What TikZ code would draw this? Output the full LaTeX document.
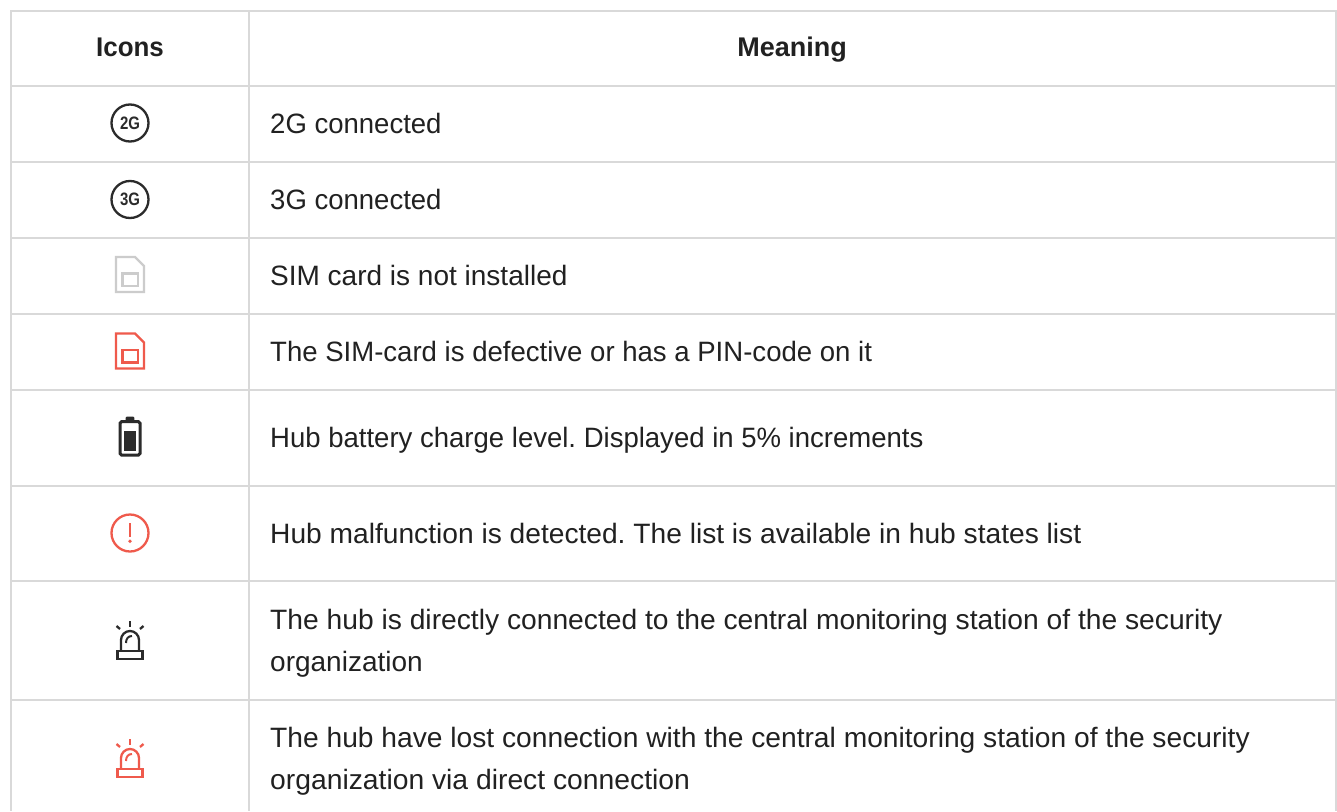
\documentclass[tikz,border=0pt]{standalone}
\usepackage{fontspec}
\setmainfont{Liberation Sans}
\frenchspacing
\definecolor{grid}{HTML}{D9D9D9}
\definecolor{ink}{HTML}{212121}
\definecolor{icon}{HTML}{2B2B2B}
\definecolor{alert}{HTML}{EF5A4C}
\definecolor{simgrey}{HTML}{CCCCCC}
\tikzset{
 gridline/.style={draw=grid,line width=2pt},
 head/.style={font=\fontsize{27}{30}\selectfont\bfseries,text=ink,inner sep=0pt,anchor=base},
 cell/.style={font=\fontsize{28}{32}\selectfont,text=ink,inner sep=0pt,anchor=base west},
 ringicon/.style={draw=icon,line width=2.3pt,circle,minimum size=37pt,inner sep=0pt,font=\fontsize{18}{18}\selectfont\bfseries,text=icon},
}
\newcommand{\ringlabel}[1]{\scalebox{0.83}[1]{#1}}
\newcommand{\fitw}[2]{\scalebox{#1}[1]{#2}}
\newcommand{\simicon}[3]{%
 \begin{scope}[shift={(#1,#2)}]
  \draw[#3,line width=2.3pt] (-14,-17.5) -- (5,-17.5) -- (14,-8.5) -- (14,17.5) -- (-14,17.5) -- cycle;
  \draw[#3,line width=2.3pt] (-7.5,-1) rectangle (8,11.5);
 \end{scope}}
\newcommand{\alarmicon}[3]{%
 \begin{scope}[shift={(#1,#2)}]
  \draw[#3,line width=2.3pt] (-9,10) -- (-9,-1) arc[start angle=180,end angle=360,radius=9] -- (9,10);
  \draw[#3,line width=2.3pt] (-12.5,10) rectangle (12.5,18);
  \draw[#3,line width=2pt] (-4,2) .. controls (-4,-2) and (-2,-5) .. (2,-5);
  \draw[#3,line width=2.3pt] (0,-20) -- (0,-14);
  \draw[#3,line width=2.3pt] (-13.5,-15) -- (-10,-12);
  \draw[#3,line width=2.3pt] (13.5,-15) -- (10,-12);
 \end{scope}}
\begin{document}
\begin{tikzpicture}[x=1pt,y=-1pt]
\useasboundingbox (0,0) rectangle (1337,811);
\fill[white] (0,0) rectangle (1337,811);
% grid
\foreach \y in {11,86,162,238,314,390,486,581,700}
  \draw[gridline] (10,\y) -- (1337,\y);
\draw[gridline] (11,10) -- (11,811);
\draw[gridline] (249,10) -- (249,811);
\draw[gridline] (1336,10) -- (1336,811);
% headers
\node[head] (h1) at (130,56) {\fitw{0.96}{Icons}};
\node[head] (h2) at (792,56) {Meaning};
% text
\node[cell] (t1) at (270,133) {\fitw{0.983}{2G connected}};
\node[cell] (t2) at (270,209) {\fitw{0.983}{3G connected}};
\node[cell] (t3) at (270,285) {SIM card is not installed};
\node[cell] (t4) at (270,361) {\fitw{0.984}{The SIM-card is defective or has a PIN-code on it}};
\node[cell] (t5) at (270,447) {\fitw{0.983}{Hub battery charge level. Displayed in 5\% increments}};
\node[cell] (t6) at (270,543) {\fitw{1.006}{Hub malfunction is detected. The list is available in hub states list}};
\node[cell] (t7a) at (270,629) {\fitw{1.008}{The hub is directly connected to the central monitoring station of the security}};
\node[cell] (t7b) at (270,671) {organization};
\node[cell] (t8a) at (270,747) {\fitw{1.007}{The hub have lost connection with the central monitoring station of the security}};
\node[cell] (t8b) at (270,789) {\fitw{1.01}{organization via direct connection}};
% icons
\node[ringicon] (i1) at (130,123) {\ringlabel{2G}};
\node[ringicon] (i2) at (130,199.5) {\ringlabel{3G}};
\simicon{130}{274.5}{simgrey}
\simicon{130}{351}{alert}
% battery
\draw[icon,line width=3pt,rounded corners=1.5pt] (120,421.7) rectangle (140,455);
\fill[icon,rounded corners=1pt] (125.7,416.7) rectangle (134.3,421);
\fill[icon] (123.5,430.7) rectangle (136,451);
% malfunction
\node[draw=alert,line width=2.3pt,circle,minimum size=37pt,inner sep=0pt] (i6) at (130,533) {};
\draw[alert,line width=2.4pt] (130,523) -- (130,537);
\fill[alert] (130,541.2) circle (1.8);
\alarmicon{130}{641}{icon}
\alarmicon{130}{759}{alert}
\end{tikzpicture}
\end{document}
